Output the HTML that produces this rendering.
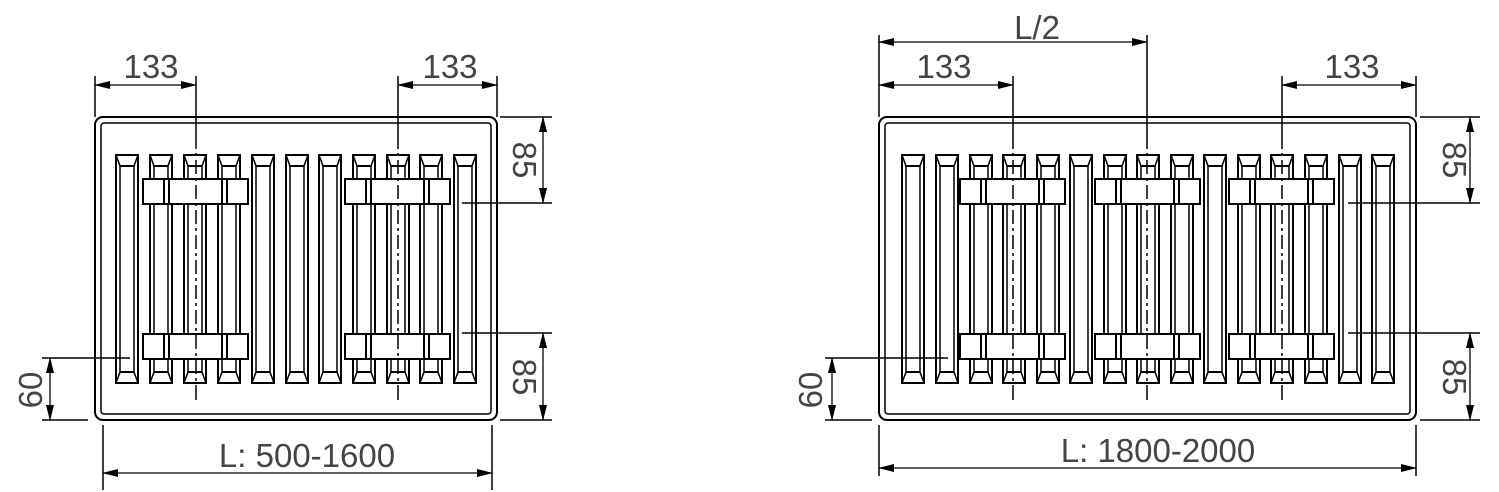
<!DOCTYPE html>
<html><head><meta charset="utf-8"><style>
html,body{margin:0;padding:0;background:#fff;}
svg{display:block;}
text{font-family:"Liberation Sans",sans-serif;font-size:33px;fill:#444;}
</style></head><body>
<svg id="s" width="1499" height="492" viewBox="0 0 1499 492" xmlns="http://www.w3.org/2000/svg">
<defs>
<marker id="a" markerWidth="16" markerHeight="8" refX="15" refY="4" orient="auto-start-reverse" markerUnits="userSpaceOnUse"><path d="M0,0 L16,4 L0,8 Z" fill="#000"/></marker>
</defs>
<g id="g" fill="none" stroke="#000" stroke-width="1.5"></g>
<text x="151" y="78" text-anchor="middle">133</text>
<text x="450" y="78" text-anchor="middle">133</text>
<text x="307" y="467" text-anchor="middle">L: 500-1600</text>
<text transform="translate(513,160) rotate(90)" text-anchor="middle">85</text>
<text transform="translate(513,377) rotate(90)" text-anchor="middle">85</text>
<text transform="translate(42,390) rotate(-90)" text-anchor="middle">60</text>
<text x="1037" y="39" text-anchor="middle">L/2</text>
<text x="944" y="78" text-anchor="middle">133</text>
<text x="1352" y="78" text-anchor="middle">133</text>
<text x="1158" y="462" text-anchor="middle">L: 1800-2000</text>
<text transform="translate(1443,160) rotate(90)" text-anchor="middle">85</text>
<text transform="translate(1443,377) rotate(90)" text-anchor="middle">85</text>
<text transform="translate(822,390) rotate(-90)" text-anchor="middle">60</text>
</svg>
<script>
var g=document.getElementById('g'),o='';
function L(x1,y1,x2,y2,ex){o+='<line x1="'+x1+'" y1="'+y1+'" x2="'+x2+'" y2="'+y2+'" '+(ex||'')+'/>';}
function A(x1,y1,x2,y2){L(x1,y1,x2,y2,'marker-start="url(#a)" marker-end="url(#a)" stroke-width="1.3"');}
function fin(c){
 o+='<rect x="'+(c-11)+'" y="155" width="22" height="228" stroke-width="2"/>';
 L(c-11,155,c-7,166);L(c+11,155,c+7,166);L(c-7,166,c+7,166,'stroke-width="2"');
 L(c-11,383,c-7,372);L(c+11,383,c+7,372);L(c-7,372,c+7,372,'stroke-width="2"');
 L(c-7,166,c-7,372);L(c+7,166,c+7,372);
}
function br(x0,y){
 o+='<rect x="'+x0+'" y="'+y+'" width="105" height="25" fill="#fff" stroke-width="2"/>';
 [21,26,79,84].forEach(function(d){L(x0+d,y,x0+d,y+25,'stroke-width="2"');});
}
function cl(x,top){L(x,top,x,135);L(x,135,x,390,'stroke-dasharray="14,4,3,4"');L(x,390,x,400);}
function panel(x1,x2,fins,brs,centers){
 o+='<rect x="'+x1+'" y="117" width="'+(x2-x1)+'" height="303" rx="8" stroke-width="2"/>';
 o+='<rect x="'+(x1+6)+'" y="123" width="'+(x2-x1-12)+'" height="291" rx="3" stroke-width="1.5"/>';
 fins.forEach(fin);
 brs.forEach(function(b){br(b,179);br(b,334);});
 centers.forEach(function(c){cl(c,76);});
}
panel(95,497,[127,161,195,229,263,297,330,364,398,431,465],[143,345],[196,398]);
L(95,76,95,117);L(497,76,497,117);
A(95,85,196,85);A(398,85,497,85);
L(500,117,552,117);L(462,203,552,203);A(543,117,543,203);
L(462,333,552,333);L(500,420,552,420);A(543,333,543,420);
L(42,358,130,358);L(42,420,88,420);A(50,358,50,420);
L(103,425,103,490);L(492,425,492,490);A(103,473,492,473);
panel(879,1416,[913,947,981,1014,1048,1081,1115,1148,1182,1215,1249,1282,1316,1350,1383],[960,1095,1229],[1013,1282]);
L(1147,35,1147,135);L(1147,135,1147,390,'stroke-dasharray="14,4,3,4"');L(1147,390,1147,400);
L(879,35,879,117);L(1416,76,1416,117);
A(879,42,1147,42);A(879,85,1013,85);A(1282,85,1416,85);
L(1420,117,1480,117);L(1348,203,1480,203);A(1470,117,1470,203);
L(1348,333,1480,333);L(1420,420,1480,420);A(1470,333,1470,420);
L(825,358,948,358);L(825,420,872,420);A(832,358,832,420);
L(879,425,879,476);L(1416,425,1416,476);A(879,468,1416,468);
g.innerHTML=o;
</script>
</body></html>
